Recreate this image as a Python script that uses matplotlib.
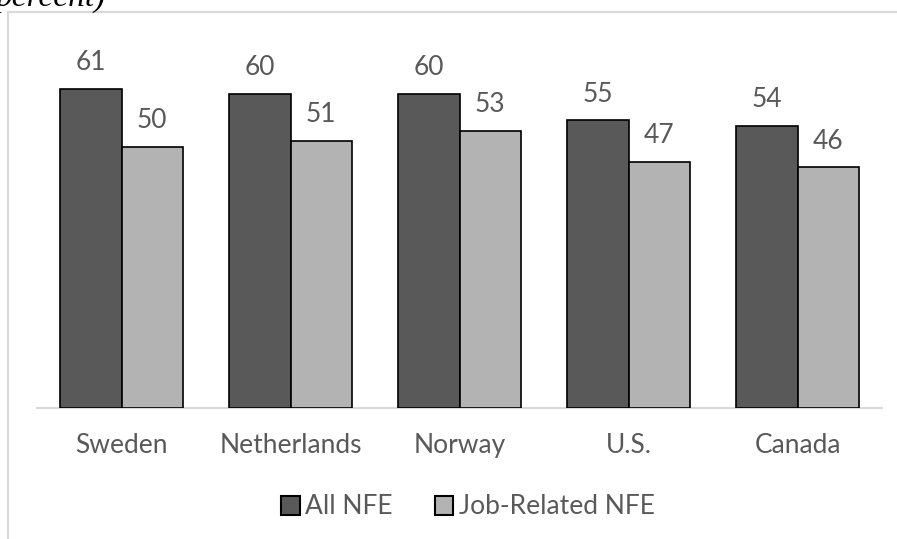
import matplotlib
matplotlib.use("Agg")
import matplotlib.pyplot as plt
from matplotlib.lines import Line2D
from matplotlib.patches import Patch
import numpy as np

categories = ["Sweden", "Netherlands", "Norway", "U.S.", "Canada"]
all_nfe = [61, 60, 60, 55, 54]
job_nfe = [50, 51, 53, 47, 46]
series_names = ["All NFE", "Job-Related NFE"]

W, H = 897, 539
fig = plt.figure(figsize=(W / 100, H / 100), dpi=100)
plt.rcParams['font.family'] = ['Lato', 'DejaVu Sans']

ax = fig.add_axes([37 / W, 1 - 408 / H, (882 - 37) / W, (408 - 42) / H])
x = np.arange(len(categories))
bw = 0.364
dark = "#595959"
light = "#b3b3b3"
b1 = ax.bar(x - bw / 2, all_nfe, bw, color=dark, edgecolor="black", linewidth=1.2, zorder=3)
b2 = ax.bar(x + bw / 2, job_nfe, bw, color=light, edgecolor="black", linewidth=1.2, zorder=3)
for bars, vals in ((b1, all_nfe), (b2, job_nfe)):
    for r, v in zip(bars, vals):
        ax.annotate(str(v), (r.get_x() + r.get_width() / 2, v), xytext=(0, 10),
                    textcoords="offset points", ha="center", va="bottom",
                    fontsize=19, color="#595959")

ax.set_xlim(-0.5, len(categories) - 0.5)
ax.set_ylim(0, 70)
ax.set_xticks(x)
ax.set_xticklabels(categories, fontsize=19, color="#595959")
ax.tick_params(axis="x", length=0, pad=18)
ax.set_yticks([])
for s in ["top", "right", "left"]:
    ax.spines[s].set_visible(False)
ax.spines["bottom"].set_color("#d9d9d9")
ax.spines["bottom"].set_linewidth(1.5)

handles = [Patch(facecolor=dark, edgecolor="black", linewidth=1.5),
           Patch(facecolor=light, edgecolor="black", linewidth=1.5)]
fig.legend(handles, series_names, loc="center", bbox_to_anchor=(468 / W, 1 - 507 / H),
           ncol=2, frameon=False, fontsize=19, labelcolor="#595959",
           handlelength=0.7, handleheight=0.7, handletextpad=0.2, columnspacing=1.6)

# chart frame (partially visible)
fig.add_artist(Line2D([8 / W, 1], [1 - 12 / H, 1 - 12 / H], color="#d9d9d9", linewidth=1.5))
fig.add_artist(Line2D([8 / W, 8 / W], [0, 1 - 12 / H], color="#d9d9d9", linewidth=1.5))

fig.text(-4 / W, 1 - 6 / H, "percent)", family="Liberation Serif", style="italic",
         fontsize=24, ha="left", va="baseline", color="black")

fig.savefig("out.png", dpi=100)
